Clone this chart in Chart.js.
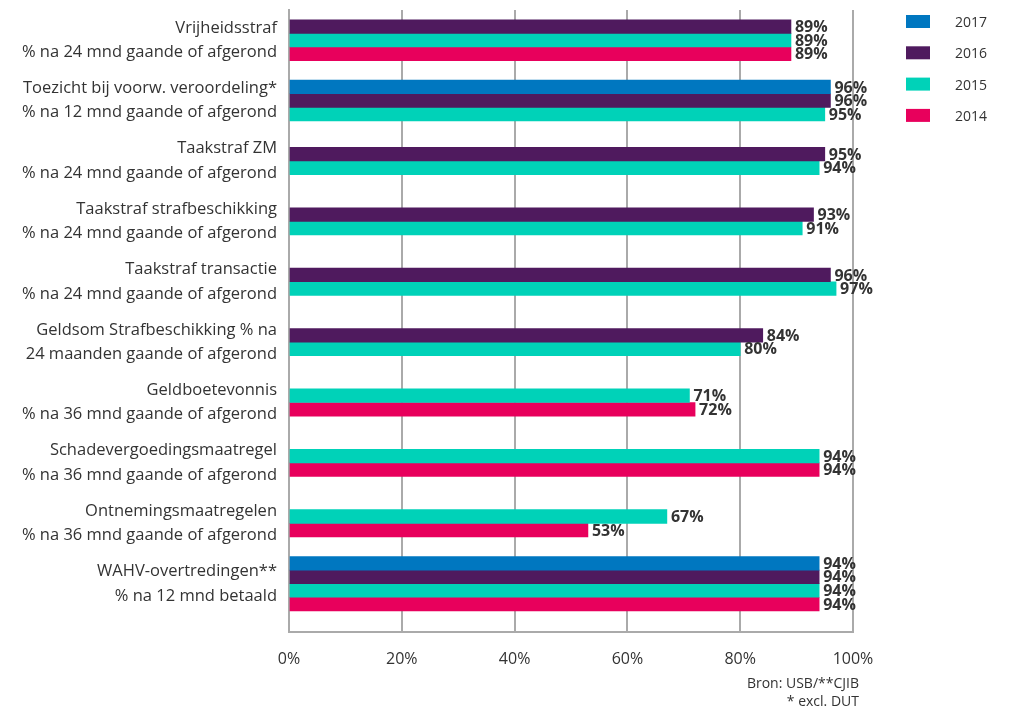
<!DOCTYPE html>
<html lang="nl">
<head>
<meta charset="utf-8">
<title>Inning en tenuitvoerlegging</title>
<script src="https://cdn.jsdelivr.net/npm/chart.js@4.4.1/dist/chart.umd.min.js"></script>
<style>
  html, body { margin: 0; padding: 0; background: #fff; }
  #wrap { width: 1011px; height: 712px; }
</style>
</head>
<body>
<div id="wrap"><canvas id="chart" width="1011" height="712"></canvas></div>
<script>
// Categories (two-line labels) and percentages per year; null = no figure
const categories = [
    ['Vrijheidsstraf', '% na 24 mnd gaande of afgerond'],
    ['Toezicht bij voorw. veroordeling*', '% na 12 mnd gaande of afgerond'],
    ['Taakstraf ZM', '% na 24 mnd gaande of afgerond'],
    ['Taakstraf strafbeschikking', '% na 24 mnd gaande of afgerond'],
    ['Taakstraf transactie', '% na 24 mnd gaande of afgerond'],
    ['Geldsom Strafbeschikking % na', '24 maanden gaande of afgerond'],
    ['Geldboetevonnis', '% na 36 mnd gaande of afgerond'],
    ['Schadevergoedingsmaatregel', '% na 36 mnd gaande of afgerond'],
    ['Ontnemingsmaatregelen', '% na 36 mnd gaande of afgerond'],
    ['WAHV-overtredingen**', '% na 12 mnd betaald']
];
const years = ['2017', '2016', '2015', '2014'];
const values2017 = [null, 96, null, null, null, null, null, null, null, 94];
const values2016 = [89, 96, 95, 93, 96, 84, null, null, null, 94];
const values2015 = [89, 95, 94, 91, 97, 80, 71, 94, 67, 94];
const values2014 = [89, null, null, null, null, null, 72, 94, 53, 94];
const xTicks = [0, 20, 40, 60, 80, 100];
const sourceLines = ['Bron: USB/**CJIB', '* excl. DUT'];

const colors = ['#0077c0', '#4f1a5e', '#00d2b8', '#e8005c'];
const series = [values2017, values2016, values2015, values2014];
const FONT = '"Open Sans", Lato, sans-serif';
const TEXT = '#333333';
const GRID = '#aaaaaa';

// value labels just past the end of each bar
const valueLabels = {
    id: 'valueLabels',
    afterDatasetsDraw(chart) {
        const ctx = chart.ctx;
        ctx.save();
        ctx.font = 'bold 16px ' + FONT;
        ctx.fillStyle = TEXT;
        ctx.textBaseline = 'middle';
        ctx.textAlign = 'left';
        chart.data.datasets.forEach((ds, i) => {
            chart.getDatasetMeta(i).data.forEach((bar, j) => {
                const v = ds.data[j];
                if (v === null) return;
                ctx.fillText(v + '%', bar.x + 4, bar.y + 1);
            });
        });
        ctx.restore();
    }
};

// legend column on the right
const sideLegend = {
    id: 'sideLegend',
    afterDraw(chart) {
        const ctx = chart.ctx;
        const x = chart.chartArea.right + 53;
        ctx.save();
        ctx.font = '14px ' + FONT;
        ctx.textBaseline = 'middle';
        chart.data.datasets.forEach((ds, i) => {
            const y = 22 + i * 31.3;
            ctx.fillStyle = ds.backgroundColor;
            ctx.fillRect(x, y - 7, 24, 13);
            ctx.fillStyle = TEXT;
            ctx.fillText(ds.label, x + 49, y + 1);
        });
        ctx.restore();
    }
};

// source note under the x axis
const sourceNote = {
    id: 'sourceNote',
    afterDraw(chart) {
        const ctx = chart.ctx;
        ctx.save();
        ctx.font = '14px ' + FONT;
        ctx.fillStyle = TEXT;
        ctx.textAlign = 'right';
        ctx.textBaseline = 'middle';
        sourceLines.forEach((line, i) => {
            ctx.fillText(line, chart.chartArea.right + 6, 684 + i * 18);
        });
        ctx.restore();
    }
};

new Chart(document.getElementById('chart'), {
    type: 'bar',
    data: {
        labels: categories,
        datasets: years.map((y, i) => ({
            label: y,
            data: series[i],
            backgroundColor: colors[i],
            borderWidth: 0,
            barThickness: 13.6,
            skipNull: true
        }))
    },
    options: {
        indexAxis: 'y',
        responsive: false,
        animation: false,
        layout: { padding: { top: 10, right: 158, bottom: 0, left: 0 } },
        plugins: {
            legend: { display: false },
            tooltip: { enabled: false }
        },
        scales: {
            x: {
                min: 0,
                max: 100,
                afterBuildTicks: s => { s.ticks = xTicks.map(v => ({ value: v })); },
                afterFit: s => { s.height = 80; s.paddingLeft = 0; s.paddingRight = 0; },
                ticks: {
                    padding: 18,
                    color: TEXT,
                    font: { family: FONT, size: 16 },
                    callback: v => v + '%'
                },
                grid: { color: GRID, lineWidth: 2, drawTicks: false },
                border: { color: GRID, width: 2 }
            },
            y: {
                // leave a little empty room below the last category
                afterBuildTicks: s => { s._valueRange += 0.3; },
                afterFit: s => { s.width = 289; s.paddingTop = 0; s.paddingBottom = 0; },
                ticks: {
                    padding: 12,
                    color: TEXT,
                    font: { family: FONT, size: 16.5, lineHeight: 1.48 }
                },
                grid: { display: false, drawTicks: false },
                border: { color: GRID, width: 2 }
            }
        }
    },
    plugins: [valueLabels, sideLegend, sourceNote]
});
</script>
</body>
</html>
